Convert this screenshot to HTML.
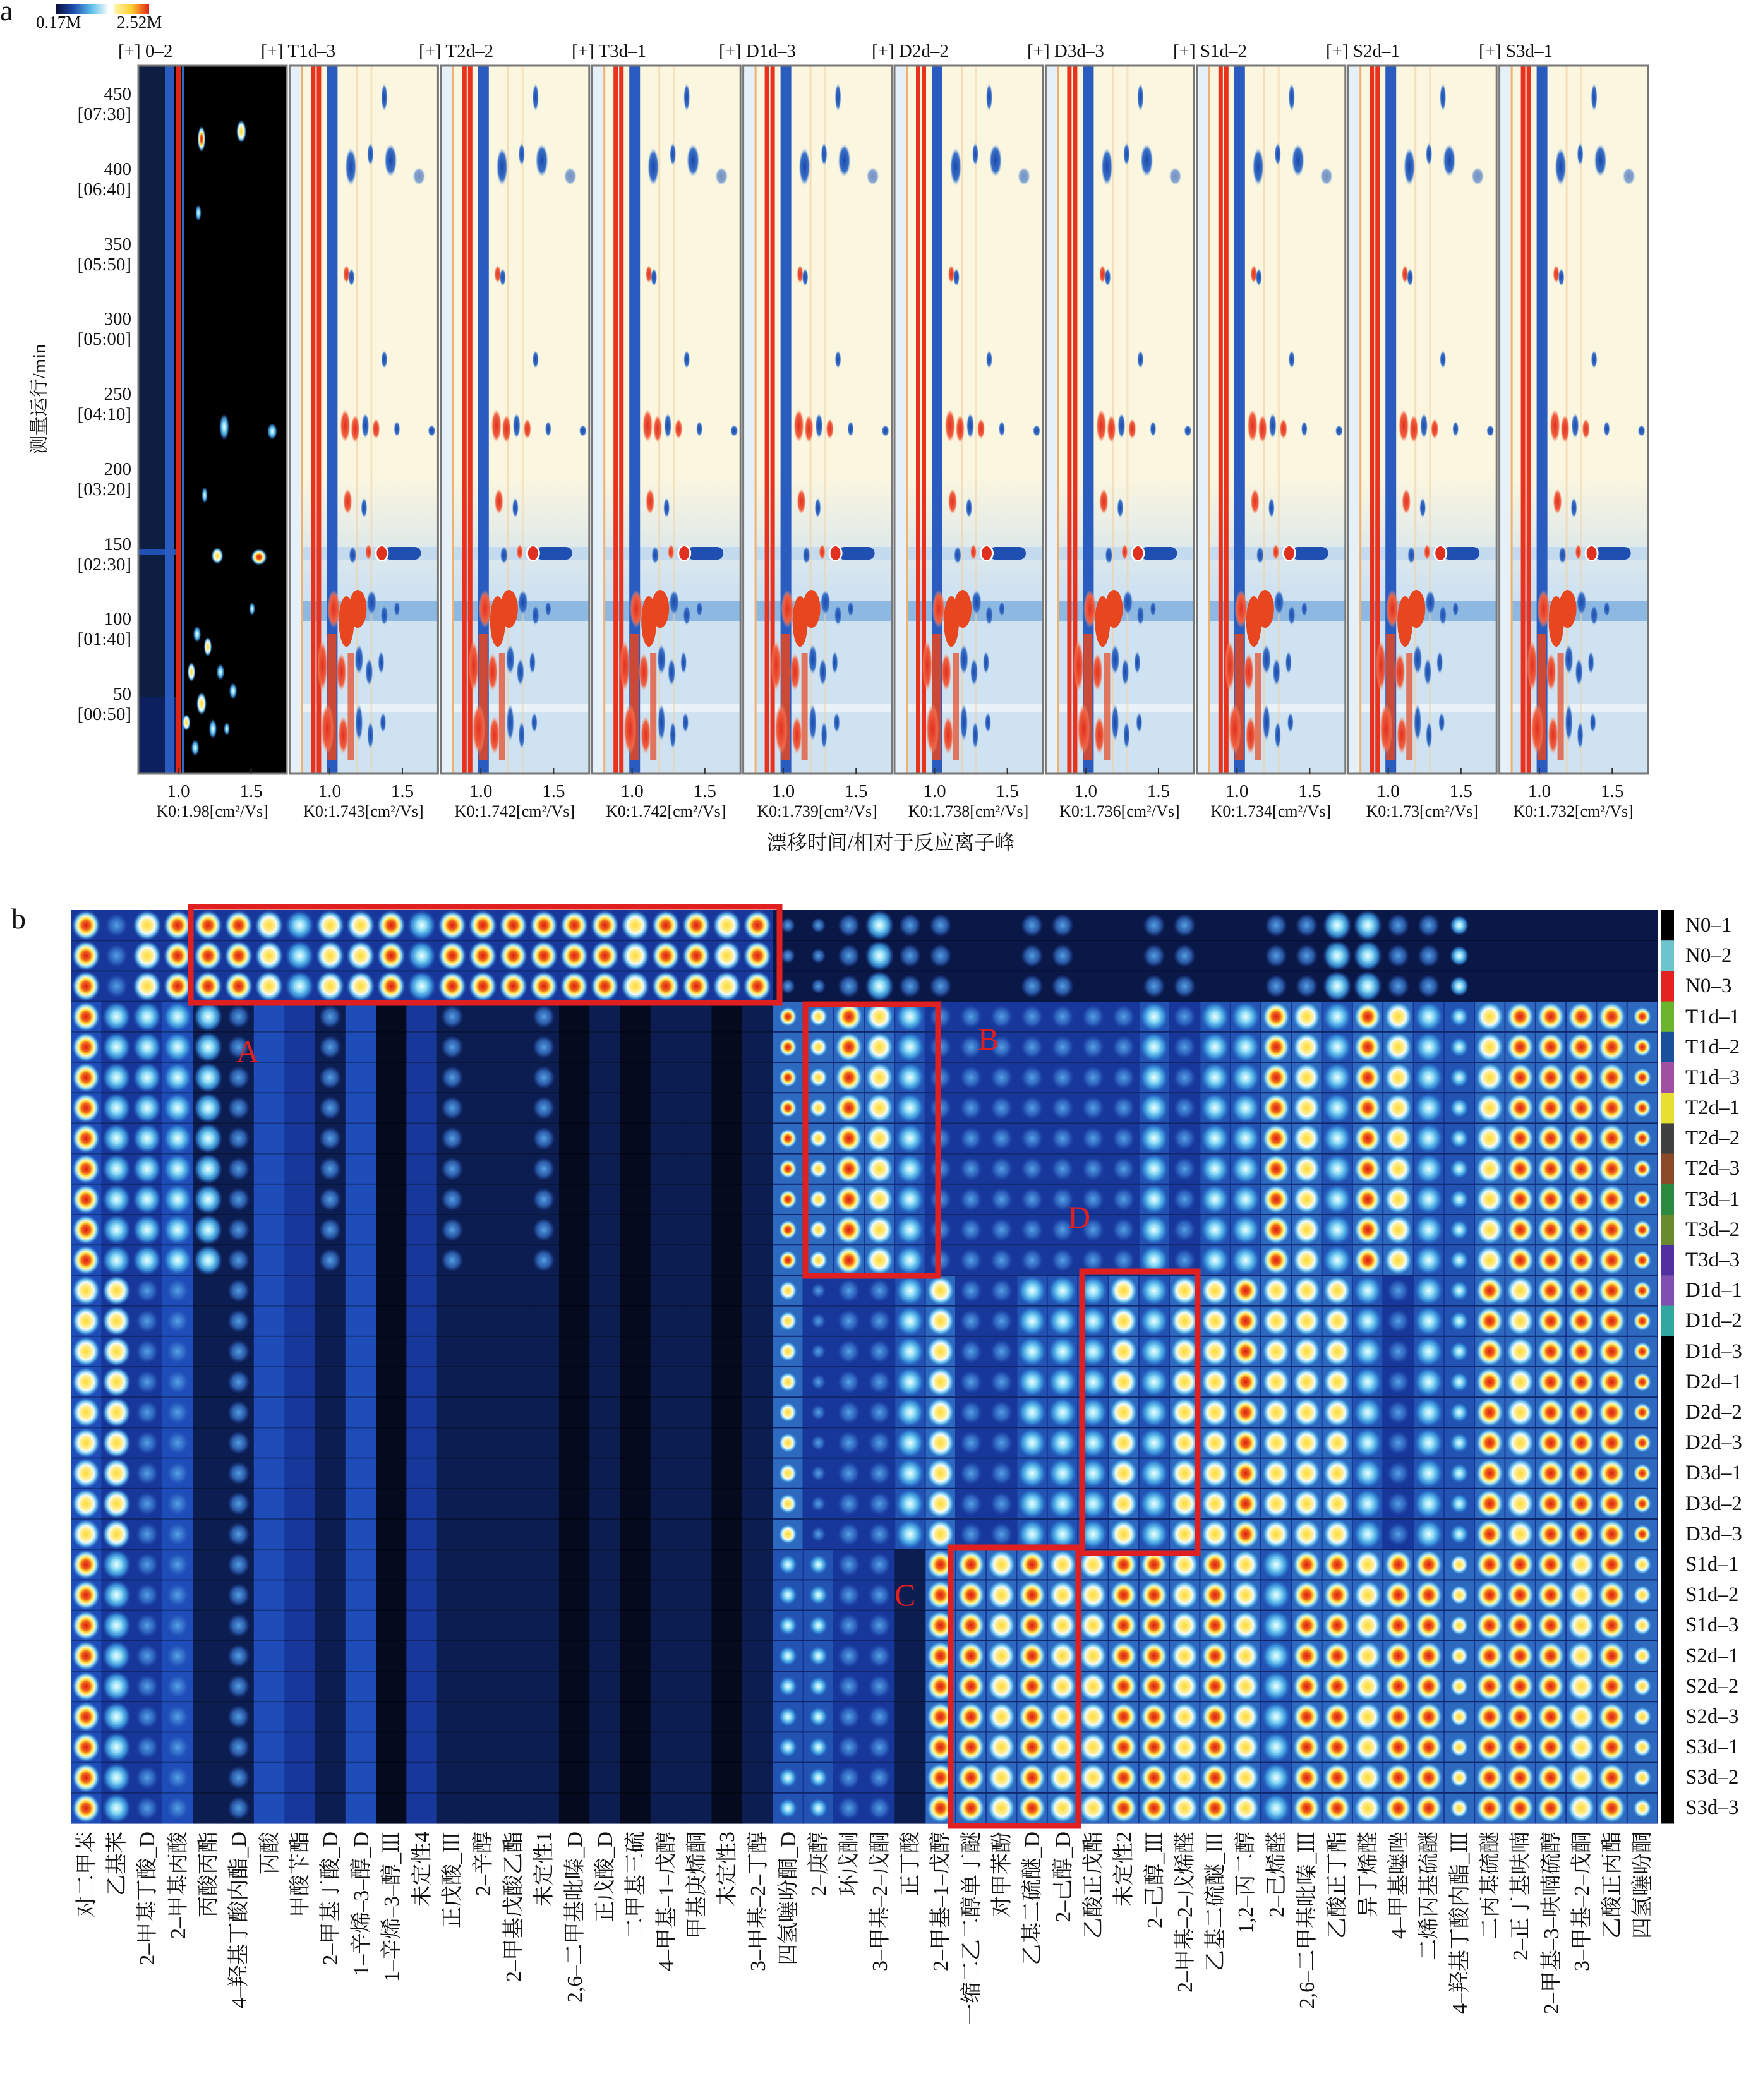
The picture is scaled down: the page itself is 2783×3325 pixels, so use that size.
<!DOCTYPE html>
<html><head><meta charset="utf-8"><style>
html,body{margin:0;padding:0;background:#fff;}
svg{display:block;}
text{font-family:"Liberation Serif","Noto Serif CJK SC",serif;fill:#111;}
</style></head><body>
<svg id="S" xmlns="http://www.w3.org/2000/svg" width="2783" height="3325" viewBox="0 0 2783 3325">
<defs>
<linearGradient id="cb1" x1="0" x2="1"><stop offset="0" stop-color="#0a0f3a"/><stop offset=".35" stop-color="#1f4fb0"/><stop offset=".7" stop-color="#5ec0ea"/><stop offset="1" stop-color="#eaf6fa"/></linearGradient>
<linearGradient id="cb2" x1="0" x2="1"><stop offset="0" stop-color="#fff6b0"/><stop offset=".5" stop-color="#ffd030"/><stop offset="1" stop-color="#e02418"/></linearGradient>
<linearGradient id="low" x1="0" y1="0" x2="0" y2="1"><stop offset="0" stop-color="#cfe2f1" stop-opacity="0"/><stop offset="1" stop-color="#cfe2f1"/></linearGradient>
<radialGradient id="g1"><stop offset="0" stop-color="#5aa8ea" stop-opacity=".95"/><stop offset=".6" stop-color="#3a78d0" stop-opacity=".7"/><stop offset="1" stop-color="#2a5cc0" stop-opacity="0"/></radialGradient>
<radialGradient id="g2"><stop offset="0" stop-color="#f2fcff"/><stop offset=".35" stop-color="#8adcf6"/><stop offset=".7" stop-color="#3a98e0" stop-opacity=".85"/><stop offset="1" stop-color="#2a5cc0" stop-opacity="0"/></radialGradient>
<radialGradient id="g3"><stop offset="0" stop-color="#ffd830"/><stop offset=".4" stop-color="#fff09a"/><stop offset=".55" stop-color="#f0fbff"/><stop offset=".75" stop-color="#68c4ee" stop-opacity=".9"/><stop offset="1" stop-color="#2a60c8" stop-opacity="0"/></radialGradient>
<radialGradient id="g4"><stop offset="0" stop-color="#d81e10"/><stop offset=".3" stop-color="#f2641e"/><stop offset=".45" stop-color="#ffd93a"/><stop offset=".58" stop-color="#fff6c0"/><stop offset=".74" stop-color="#78cef2"/><stop offset="1" stop-color="#2a60c8" stop-opacity="0"/></radialGradient>
<radialGradient id="rb"><stop offset="0" stop-color="#e03020"/><stop offset=".7" stop-color="#f06040"/><stop offset="1" stop-color="#f8a080" stop-opacity="0"/></radialGradient>
<radialGradient id="bb"><stop offset="0" stop-color="#1a48a8"/><stop offset=".7" stop-color="#3a70c8"/><stop offset="1" stop-color="#9cc4e6" stop-opacity="0"/></radialGradient>
<g id="pnl">
<rect width="235" height="1121" fill="#fbf6df"/>
<rect y="650" width="235" height="180" fill="url(#low)"/>
<rect y="830" width="235" height="291" fill="#cfe2f1"/>
<rect y="762" width="235" height="20" fill="#c4dbef"/>
<rect y="848" width="235" height="32" fill="#8cb8e2"/>
<rect y="1010" width="235" height="14" fill="#e8f2f8"/>
<rect width="18" height="1121" fill="#e6f0f8"/>
<rect x="18" width="3" height="1121" fill="#f0b070"/>
<rect x="34" width="7" height="1121" fill="#e8321e"/>
<rect x="43" width="7" height="1121" fill="#e8321e"/>
<rect x="59" width="17" height="1121" fill="#2a5cc0"/>
<rect x="105" width="3" height="1121" fill="#f3cfa0" opacity=".6"/>
<rect x="128" width="3" height="1121" fill="#f3cfa0" opacity=".5"/>
<ellipse cx="150" cy="50" rx="5" ry="22" fill="url(#bb)"/>
<ellipse cx="97" cy="160" rx="9" ry="30" fill="url(#bb)"/>
<ellipse cx="160" cy="150" rx="10" ry="26" fill="url(#bb)"/>
<ellipse cx="128" cy="140" rx="5" ry="18" fill="url(#bb)"/>
<ellipse cx="205" cy="175" rx="10" ry="14" fill="url(#bb)" opacity=".6"/>
<ellipse cx="90" cy="330" rx="5" ry="14" fill="url(#rb)"/>
<ellipse cx="98" cy="335" rx="5" ry="14" fill="url(#bb)"/>
<ellipse cx="150" cy="465" rx="5" ry="14" fill="url(#bb)"/>
<ellipse cx="88" cy="570" rx="8" ry="26" fill="url(#rb)"/>
<ellipse cx="104" cy="575" rx="7" ry="22" fill="url(#rb)"/>
<ellipse cx="120" cy="570" rx="6" ry="20" fill="url(#bb)"/>
<ellipse cx="137" cy="575" rx="6" ry="16" fill="url(#rb)"/>
<ellipse cx="170" cy="575" rx="5" ry="12" fill="url(#bb)"/>
<ellipse cx="225" cy="578" rx="6" ry="9" fill="url(#bb)"/>
<ellipse cx="92" cy="690" rx="7" ry="20" fill="url(#rb)"/>
<ellipse cx="118" cy="700" rx="5" ry="16" fill="url(#bb)"/>
<rect x="150" y="762" width="58" height="20" rx="10" fill="#1f4fb0"/>
<ellipse cx="146" cy="772" rx="11" ry="13" fill="#fff"/>
<ellipse cx="146" cy="772" rx="8" ry="11" fill="#e03020"/>
<ellipse cx="100" cy="775" rx="6" ry="14" fill="url(#bb)"/>
<ellipse cx="125" cy="770" rx="5" ry="12" fill="url(#rb)"/>
<ellipse cx="70" cy="860" rx="10" ry="30" fill="url(#rb)"/>
<ellipse cx="90" cy="880" rx="12" ry="40" fill="#e8461e"/>
<ellipse cx="108" cy="860" rx="14" ry="30" fill="#e8461e"/>
<ellipse cx="130" cy="850" rx="8" ry="20" fill="url(#bb)"/>
<ellipse cx="150" cy="870" rx="6" ry="16" fill="url(#bb)"/>
<ellipse cx="170" cy="860" rx="5" ry="12" fill="url(#bb)"/>
<rect x="60" y="900" width="14" height="200" fill="#e8461e" opacity=".85"/>
<rect x="92" y="930" width="10" height="170" fill="#e8461e" opacity=".7"/>
<ellipse cx="52" cy="950" rx="8" ry="40" fill="url(#rb)"/>
<ellipse cx="82" cy="960" rx="8" ry="30" fill="url(#rb)"/>
<ellipse cx="110" cy="940" rx="7" ry="24" fill="url(#bb)"/>
<ellipse cx="126" cy="960" rx="6" ry="22" fill="url(#bb)"/>
<ellipse cx="145" cy="945" rx="5" ry="18" fill="url(#bb)"/>
<ellipse cx="60" cy="1050" rx="10" ry="40" fill="url(#rb)"/>
<ellipse cx="85" cy="1060" rx="8" ry="30" fill="url(#rb)"/>
<ellipse cx="110" cy="1040" rx="6" ry="30" fill="url(#bb)"/>
<ellipse cx="128" cy="1060" rx="5" ry="22" fill="url(#bb)"/>
<ellipse cx="148" cy="1040" rx="5" ry="16" fill="url(#bb)"/>
<rect width="235" height="1121" fill="none" stroke="#777" stroke-width="3"/>
</g>
</defs>
<rect width="2783" height="3325" fill="#fff"/>

<text x="0" y="32" font-size="46">a</text>
<rect x="89" y="6" width="80" height="16" fill="url(#cb1)"/>
<rect x="180" y="6" width="56" height="16" fill="url(#cb2)"/>
<text x="57" y="44" font-size="27">0.17M</text>
<text x="185" y="44" font-size="27">2.52M</text>

<g id="panels"></g>

<g font-size="29" text-anchor="end">
<text x="208" y="158">450</text><text x="208" y="190">[07:30]</text>
<text x="208" y="277">400</text><text x="208" y="309">[06:40]</text>
<text x="208" y="396">350</text><text x="208" y="428">[05:50]</text>
<text x="208" y="514">300</text><text x="208" y="546">[05:00]</text>
<text x="208" y="633">250</text><text x="208" y="665">[04:10]</text>
<text x="208" y="752">200</text><text x="208" y="784">[03:20]</text>
<text x="208" y="871">150</text><text x="208" y="903">[02:30]</text>
<text x="208" y="989">100</text><text x="208" y="1021">[01:40]</text>
<text x="208" y="1108">50</text><text x="208" y="1140">[00:50]</text>
</g>
<text transform="translate(72,632) rotate(-90)" font-size="30" text-anchor="middle">测量运行/min</text>

<g font-size="29">
<text x="187" y="90">[+] 0–2</text>
<text x="413" y="90">[+] T1d–3</text>
<text x="663" y="90">[+] T2d–2</text>
<text x="905" y="90">[+] T3d–1</text>
<text x="1138" y="90">[+] D1d–3</text>
<text x="1380" y="90">[+] D2d–2</text>
<text x="1626" y="90">[+] D3d–3</text>
<text x="1857" y="90">[+] S1d–2</text>
<text x="2099" y="90">[+] S2d–1</text>
<text x="2341" y="90">[+] S3d–1</text>
</g>
<g id="k0" font-size="26" text-anchor="middle"></g>
<text x="1410" y="1345" font-size="32" text-anchor="middle">漂移时间/相对于反应离子峰</text>

<text x="18" y="1470" font-size="46">b</text>
<g id="heat"></g>
<g id="strip"></g>
<g fill="none" stroke="#e02020" stroke-width="9">
<rect x="302" y="1436" width="932" height="152"/>
<rect x="1275" y="1590" width="210" height="430"/>
<rect x="1505" y="2450" width="202" height="441"/>
<rect x="1713" y="2013" width="183" height="446"/>
</g>
<g font-size="50">
<text x="374" y="1682" style="fill:#e02020">A</text>
<text x="1548" y="1662" style="fill:#e02020">B</text>
<text x="1416" y="2542" style="fill:#e02020">C</text>
<text x="1690" y="1944" style="fill:#e02020">D</text>
</g>
<g font-size="33">
<text x="2668" y="1475">N0–1</text><text x="2668" y="1523">N0–2</text><text x="2668" y="1571">N0–3</text>
<text x="2668" y="1620">T1d–1</text><text x="2668" y="1668">T1d–2</text><text x="2668" y="1716">T1d–3</text>
<text x="2668" y="1764">T2d–1</text><text x="2668" y="1812">T2d–2</text><text x="2668" y="1860">T2d–3</text>
<text x="2668" y="1909">T3d–1</text><text x="2668" y="1957">T3d–2</text><text x="2668" y="2005">T3d–3</text>
<text x="2668" y="2053">D1d–1</text><text x="2668" y="2101">D1d–2</text><text x="2668" y="2150">D1d–3</text>
<text x="2668" y="2198">D2d–1</text><text x="2668" y="2246">D2d–2</text><text x="2668" y="2294">D2d–3</text>
<text x="2668" y="2342">D3d–1</text><text x="2668" y="2391">D3d–2</text><text x="2668" y="2439">D3d–3</text>
<text x="2668" y="2487">S1d–1</text><text x="2668" y="2535">S1d–2</text><text x="2668" y="2583">S1d–3</text>
<text x="2668" y="2632">S2d–1</text><text x="2668" y="2680">S2d–2</text><text x="2668" y="2728">S2d–3</text>
<text x="2668" y="2776">S3d–1</text><text x="2668" y="2824">S3d–2</text><text x="2668" y="2872">S3d–3</text>
</g>
<g font-size="34" text-anchor="end">
<text transform="translate(148,2900) rotate(-90)">对二甲苯</text>
<text transform="translate(196,2900) rotate(-90)">乙基苯</text>
<text transform="translate(244,2900) rotate(-90)">2–甲基丁酸_D</text>
<text transform="translate(293,2900) rotate(-90)">2–甲基丙酸</text>
<text transform="translate(341,2900) rotate(-90)">丙酸丙酯</text>
<text transform="translate(389,2900) rotate(-90)">4–羟基丁酸内酯_D</text>
<text transform="translate(438,2900) rotate(-90)">丙酸</text>
<text transform="translate(486,2900) rotate(-90)">甲酸苄酯</text>
<text transform="translate(534,2900) rotate(-90)">2–甲基丁酸_D</text>
<text transform="translate(583,2900) rotate(-90)">1–辛烯–3–醇_D</text>
<text transform="translate(631,2900) rotate(-90)">1–辛烯–3–醇_Ⅲ</text>
<text transform="translate(679,2900) rotate(-90)">未定性4</text>
<text transform="translate(727,2900) rotate(-90)">正戊酸_Ⅲ</text>
<text transform="translate(776,2900) rotate(-90)">2–辛醇</text>
<text transform="translate(824,2900) rotate(-90)">2–甲基戊酸乙酯</text>
<text transform="translate(872,2900) rotate(-90)">未定性1</text>
<text transform="translate(921,2900) rotate(-90)">2,6–二甲基吡嗪_D</text>
<text transform="translate(969,2900) rotate(-90)">正戊酸_D</text>
<text transform="translate(1017,2900) rotate(-90)">二甲基三硫</text>
<text transform="translate(1066,2900) rotate(-90)">4–甲基–1–戊醇</text>
<text transform="translate(1114,2900) rotate(-90)">甲基庚烯酮</text>
<text transform="translate(1162,2900) rotate(-90)">未定性3</text>
<text transform="translate(1211,2900) rotate(-90)">3–甲基–2–丁醇</text>
<text transform="translate(1259,2900) rotate(-90)">四氢噻吩酮_D</text>
<text transform="translate(1307,2900) rotate(-90)">2–庚醇</text>
<text transform="translate(1355,2900) rotate(-90)">环戊酮</text>
<text transform="translate(1404,2900) rotate(-90)">3–甲基–2–戊酮</text>
<text transform="translate(1452,2900) rotate(-90)">正丁酸</text>
<text transform="translate(1500,2900) rotate(-90)">2–甲基–1–戊醇</text>
<text transform="translate(1549,2900) rotate(-90)">一缩二乙二醇单丁醚</text>
<text transform="translate(1597,2900) rotate(-90)">对甲苯酚</text>
<text transform="translate(1645,2900) rotate(-90)">乙基二硫醚_D</text>
<text transform="translate(1694,2900) rotate(-90)">2–己醇_D</text>
<text transform="translate(1742,2900) rotate(-90)">乙酸正戊酯</text>
<text transform="translate(1790,2900) rotate(-90)">未定性2</text>
<text transform="translate(1839,2900) rotate(-90)">2–己醇_Ⅲ</text>
<text transform="translate(1887,2900) rotate(-90)">2–甲基–2–戊烯醛</text>
<text transform="translate(1935,2900) rotate(-90)">乙基二硫醚_Ⅲ</text>
<text transform="translate(1983,2900) rotate(-90)">1,2–丙二醇</text>
<text transform="translate(2032,2900) rotate(-90)">2–己烯醛</text>
<text transform="translate(2080,2900) rotate(-90)">2,6–二甲基吡嗪_Ⅲ</text>
<text transform="translate(2128,2900) rotate(-90)">乙酸正丁酯</text>
<text transform="translate(2177,2900) rotate(-90)">异丁烯醛</text>
<text transform="translate(2225,2900) rotate(-90)">4–甲基噻唑</text>
<text transform="translate(2273,2900) rotate(-90)">二烯丙基硫醚</text>
<text transform="translate(2322,2900) rotate(-90)">4–羟基丁酸内酯_Ⅲ</text>
<text transform="translate(2370,2900) rotate(-90)">二丙基硫醚</text>
<text transform="translate(2418,2900) rotate(-90)">2–正丁基呋喃</text>
<text transform="translate(2467,2900) rotate(-90)">2–甲基–3–呋喃硫醇</text>
<text transform="translate(2515,2900) rotate(-90)">3–甲基–2–戊酮</text>
<text transform="translate(2563,2900) rotate(-90)">乙酸正丙酯</text>
<text transform="translate(2611,2900) rotate(-90)">四氢噻吩酮</text>
</g>
</svg>
<script>
(function(){
var NS="http://www.w3.org/2000/svg";
function el(p,t,a){var e=document.createElementNS(NS,t);for(var k in a)e.setAttribute(k,a[k]);p.appendChild(e);return e;}
var P=document.getElementById('panels'),K=document.getElementById('k0');
var k0=["1.98","1.743","1.742","1.742","1.739","1.738","1.736","1.734","1.73","1.732"];
for(var i=0;i<10;i++){
 var L=219+i*239.4;
 if(i==0){
  var g=el(P,'g',{transform:'translate('+L+',104)'});
  el(g,'rect',{width:235,height:1121,fill:'#000'});
  el(g,'rect',{width:44,height:1121,fill:'#0e1d42'});
  el(g,'rect',{x:0,y:1000,width:60,height:121,fill:'#0c2060'});
  el(g,'rect',{x:0,y:766,width:60,height:8,fill:'#2050b0'});
  el(g,'rect',{x:42,width:14,height:1121,fill:'#2a5cc0'});
  el(g,'rect',{x:59,width:9,height:1121,fill:'#e02418'});
  el(g,'rect',{x:69,width:4,height:1121,fill:'#2a6cd0'});
  var sp=[[100,116,4,16,'g4'],[163,104,5,14,'g3'],[95,233,3,10,'g2'],[136,572,5,16,'g2'],[212,579,5,10,'g2'],[125,776,6,10,'g3'],[191,778,8,10,'g4'],[93,900,4,10,'g2'],[110,920,4,12,'g3'],[130,960,4,10,'g2'],[84,960,4,12,'g3'],[150,990,4,10,'g2'],[100,1010,5,14,'g3'],[118,1050,4,12,'g2'],[76,1040,4,10,'g3'],[90,1080,4,10,'g2'],[140,1050,3,8,'g2'],[105,680,3,10,'g2'],[180,860,3,8,'g2']];
  sp.forEach(function(s){el(g,'ellipse',{cx:s[0],cy:s[1],rx:s[2]*1.6,ry:s[3]*1.3,fill:'url(#'+s[4]+')'});});
  el(g,'rect',{width:235,height:1121,fill:'none',stroke:'#777','stroke-width':3});
 } else {
  el(P,'use',{href:'#pnl',transform:'translate('+L+',104)'});
 }
 var x1=L+0.27*235,x2=L+0.76*235;
 el(P,'line',{x1:x1,y1:1225,x2:x1,y2:1216,stroke:'#333','stroke-width':2});
 el(P,'line',{x1:x2,y1:1225,x2:x2,y2:1216,stroke:'#333','stroke-width':2});
 var t=el(K,'text',{x:x1,y:1262,'font-size':29});t.textContent='1.0';
 t=el(K,'text',{x:x2,y:1262,'font-size':29});t.textContent='1.5';
 t=el(K,'text',{x:L+117,y:1293});t.textContent='K0:'+k0[i]+'[cm²/Vs]';
}
var H=document.getElementById('heat');
var x0=112,y0=1441,cw=2512/52,ch=1446/30;
var BG={k:'#050a1e',a:'#0c1d52',b:'#17389a',c:'#1e4cb8',n:'#0a1848'};
var C=[
"4434bc","1232bb","3211bb","4211bc","4200ba","4111ba","3000bc","2000bb","3100ba","3000bc",
"4000bk","2000bb","4100ba","4000ba","4000ba","4100ba","4000bk","4000ba","3000bk","4000ba",
"4000ba","3000bk","4000ba",
"1432nbs","1312nbs","1411nb","2311nb","1220nb","1134nb","0114nb","0113nb","1124nb","1123nb",
"0123nb","0134nb","1224nb","1133nb","0234nb","0243nb","1432nb","1334nb","2234nb","2423nb",
"1314nb","1224nb","2223nbs","0344nb","0434nb","0444nb","0443nb","0444nb","0443nbs"];
var grp=function(r){return r<3?0:r<12?1:r<21?2:3;};
for(var c=0;c<52;c++){
 var s=C[c],small=s.length>6;
 for(var r=0;r<30;r++){
  var gI=grp(r),lv=+s[gI];
  var bg=gI==0?BG[s[4]]:BG[s[5]];
  if(gI==3&&c==27)bg=BG.a;
  var x=x0+c*cw,y=y0+r*ch;
  el(H,'rect',{x:x.toFixed(1),y:y.toFixed(1),width:(cw+0.6).toFixed(1),height:(ch+0.6).toFixed(1),fill:bg});
  if(lv>0){
   var f=small?0.66:1;
   if(lv>=2&&gI>0&&c>=23) el(H,'rect',{x:(x+1).toFixed(1),y:(y+1).toFixed(1),width:(cw-2).toFixed(1),height:(ch-2).toFixed(1),fill:lv>=3?'#3a8ad8':'#2a66c4',opacity:.6});
   var rx=cw*(lv==1?0.36:0.47)*f, ry=ch*(lv==1?0.38:0.5)*f;
   el(H,'ellipse',{cx:(x+cw/2).toFixed(1),cy:(y+ch/2).toFixed(1),rx:rx.toFixed(1),ry:ry.toFixed(1),fill:'url(#g'+lv+')'});
  }
 }
}
for(var r=1;r<30;r++) el(H,'rect',{x:x0,y:(y0+r*ch-1).toFixed(1),width:2512,height:2,fill:'#000',opacity:.3});
var St=document.getElementById('strip');
var sc=['#000','#6cc5cc','#e42320','#6ab42e','#1a4f9c','#a050a0','#e8e030','#404040','#8a4a28','#2a8a40','#6a8a30','#5030a0','#8050b0','#30a8a0'];
for(var r=0;r<30;r++) el(St,'rect',{x:2630,y:(y0+r*ch).toFixed(1),width:20,height:(ch+0.5).toFixed(1),fill:r<14?sc[r]:'#000'});
})();
</script>
</body></html>
